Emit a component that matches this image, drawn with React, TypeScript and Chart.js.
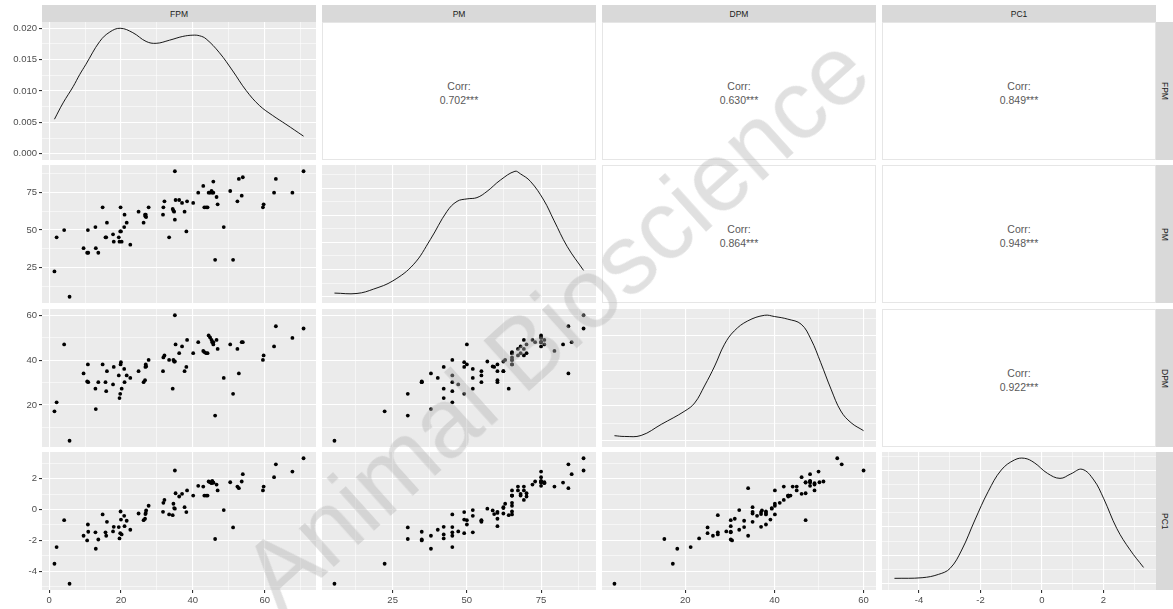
import React, { useEffect, useRef } from "react";
import { Chart, registerables } from "chart.js";
Chart.register(...registerables);

const FONT = "'Liberation Sans', Arial, sans-serif";

const VAR_NAMES = ["FPM", "PM", "DPM", "PC1"];

const FPM = [1.5, 2.1, 4.2, 5.7, 9.6, 10.6, 10.8, 10.9, 12.9, 13.0, 13.7, 14.9, 15.7, 15.9, 16.1, 17.8, 18.0, 19.4, 19.6, 19.8, 19.9, 20.0, 20.2, 20.9, 21.0, 21.6, 22.6, 24.9, 26.3, 26.7, 26.8, 26.9, 27.0, 27.7, 31.7, 31.8, 32.1, 33.4, 34.4, 34.6, 34.8, 35.0, 35.0, 35.2, 36.2, 37.0, 37.7, 38.2, 38.4, 40.1, 41.5, 42.9, 43.2, 43.7, 44.1, 44.4, 44.8, 45.2, 45.4, 45.7, 45.7, 46.2, 46.6, 46.9, 48.6, 50.4, 51.2, 52.4, 52.8, 53.6, 53.9, 59.5, 59.7, 62.6, 63.1, 67.7, 70.8];
const PM = [22.3, 45.1, 50.0, 5.4, 37.9, 34.8, 50.0, 34.8, 52.0, 37.9, 34.8, 65.2, 45.1, 45.1, 54.9, 47.1, 42.2, 45.1, 42.2, 49.1, 65.2, 49.1, 42.2, 52.0, 60.3, 54.9, 40.2, 62.3, 54.9, 60.3, 59.2, 60.3, 58.7, 65.2, 60.3, 65.2, 69.2, 45.1, 64.1, 62.9, 62.3, 56.9, 89.3, 70.1, 70.1, 68.1, 62.3, 49.1, 69.2, 68.1, 75.0, 79.5, 65.2, 65.2, 65.2, 75.0, 75.0, 76.1, 75.0, 82.4, 75.0, 30.1, 72.1, 67.2, 52.0, 76.1, 30.1, 69.2, 84.2, 73.0, 85.3, 65.2, 67.2, 75.0, 84.2, 75.0, 89.3];
const DPM = [17.2, 21.2, 47.0, 4.1, 34.1, 30.5, 38.1, 30.2, 27.3, 18.2, 30.2, 38.1, 30.2, 26.2, 35.1, 29.2, 37.0, 33.2, 23.1, 25.0, 38.1, 39.1, 27.3, 36.1, 30.2, 33.2, 32.1, 35.1, 30.2, 31.1, 37.0, 38.1, 37.2, 40.1, 35.1, 41.2, 42.1, 40.1, 27.3, 40.1, 39.4, 39.4, 60.0, 47.0, 43.1, 46.1, 35.1, 37.0, 49.0, 43.1, 48.0, 44.1, 43.6, 43.1, 43.1, 51.0, 50.1, 49.0, 48.0, 47.0, 48.0, 15.3, 49.0, 45.0, 32.1, 47.0, 25.0, 45.0, 34.1, 48.0, 48.0, 40.1, 42.1, 46.1, 55.1, 49.9, 54.1];
const PC1 = [-3.51, -2.43, -0.69, -4.8, -1.7, -2.0, -0.97, -1.44, -1.48, -2.54, -1.94, -0.32, -1.48, -1.7, -0.8, -1.42, -1.12, -1.14, -1.87, -1.53, -0.13, -0.65, -1.61, -0.41, -1.08, -0.73, -1.31, -0.26, -0.69, -0.6, -0.3, -0.22, -0.06, 0.24, -0.15, 0.43, 0.62, -0.32, -0.37, 0.37, 0.09, 0.05, 2.52, 1.05, 0.84, 1.01, 0.15, -0.17, 1.23, 0.9, 1.53, 1.48, 0.9, 0.9, 0.9, 1.81, 1.76, 1.7, 1.85, 1.74, 1.74, -1.91, 1.61, 1.23, -0.04, 1.76, -1.16, 1.48, 1.38, 1.81, 2.28, 1.23, 1.48, 2.09, 2.92, 2.45, 3.31];

// correlation labels, upper triangle, row by row
const CORR_LABELS = ["0.702***", "0.630***", "0.849***", "0.864***", "0.948***", "0.922***"];

// axis tick labels
const FPM_TICKS = [0, 20, 40, 60];
const PM_TICKS = [25, 50, 75];
const DPM_TICKS = [20, 40, 60];
const PC1_TICKS = [-4, -2, 0, 2];

// density curves
const FPM_DENS_X = [1.5, 3.9, 6.7, 8.5, 10.2, 14.1, 16.9, 19.8, 23.3, 27.0, 29.8, 33.5, 37.2, 40.0, 41.9, 43.7, 47.4, 51.1, 54.8, 58.5, 62.2, 65.9, 70.8];
const FPM_DENS_Y = [0.0055, 0.0081, 0.0107, 0.0126, 0.0142, 0.0179, 0.0194, 0.0200, 0.0193, 0.0179, 0.0176, 0.0181, 0.0187, 0.0189, 0.0188, 0.0183, 0.0161, 0.0132, 0.0101, 0.0077, 0.0061, 0.0047, 0.0028];
const PM_DENS_X = [5.4, 13.0, 18.6, 25.1, 32.1, 37.7, 43.3, 46.7, 50.1, 53.4, 56.8, 61.3, 66.2, 68.0, 71.4, 75.9, 79.3, 83.8, 89.3];
const PM_DENS_Y = [0.00067, 0.0006, 0.00141, 0.00293, 0.00598, 0.01053, 0.01571, 0.01756, 0.01802, 0.01825, 0.0194, 0.02148, 0.0231, 0.02264, 0.02125, 0.01779, 0.01409, 0.00924, 0.00485];
const DPM_DENS_X = [4.1, 6.4, 10.1, 14.6, 19.9, 22.1, 24.3, 26.6, 28.8, 31.0, 34.0, 37.8, 40.0, 43.0, 46.0, 48.2, 50.4, 52.7, 54.9, 57.2, 60.0];
const DPM_DENS_Y = [0.00144, 0.00122, 0.00151, 0.00468, 0.0085, 0.0108, 0.01566, 0.02138, 0.02761, 0.03143, 0.03427, 0.03589, 0.03553, 0.03478, 0.03334, 0.02902, 0.02232, 0.01476, 0.0085, 0.00515, 0.00288];
const PC1_DENS_X = [-4.8, -3.9, -3.37, -2.99, -2.61, -2.18, -1.75, -1.32, -0.89, -0.57, -0.25, 0.18, 0.59, 0.94, 1.31, 1.69, 2.01, 2.44, 2.87, 3.31];
const PC1_DENS_Y = [0.0095, 0.0106, 0.0164, 0.027, 0.0594, 0.1123, 0.1622, 0.2004, 0.2181, 0.221, 0.2133, 0.1945, 0.1856, 0.1934, 0.2016, 0.1828, 0.1503, 0.0972, 0.0597, 0.0287];
const FPM_DENS_TICKS = [0, 0.005, 0.01, 0.015, 0.02];
const PM_DENS_TICKS = [0, 0.005, 0.01, 0.015, 0.02];
const DPM_DENS_TICKS = [0, 0.01, 0.02, 0.03];
const PC1_DENS_TICKS = [0, 0.05, 0.1, 0.15, 0.2];

const VARS = [FPM, PM, DPM, PC1];
const MAJORS = [FPM_TICKS, PM_TICKS, DPM_TICKS, PC1_TICKS];
const DENS_X = [FPM_DENS_X, PM_DENS_X, DPM_DENS_X, PC1_DENS_X];
const DENS_Y = [FPM_DENS_Y, PM_DENS_Y, DPM_DENS_Y, PC1_DENS_Y];
const DENS_TICKS = [FPM_DENS_TICKS, PM_DENS_TICKS, DPM_DENS_TICKS, PC1_DENS_TICKS];

// layout
const W = 1173;
const H = 609;
const COL_LEFT = [42, 322, 602, 882];
const ROW_TOP = [22, 165, 309, 452];
const PW = 274;
const PH = 138;
const Y_AXIS_W = 42;
const X_AXIS_H = H - (ROW_TOP[3] + PH);
const STRIP_TOP = 5;
const STRIP_RIGHT_LEFT = 1156;

function rangeOf(a: number[]): [number, number] {
  const mn = Math.min(...a);
  const mx = Math.max(...a);
  const d = mx - mn;
  return [mn - 0.05 * d, mx + 0.05 * d];
}
function densRange(a: number[]): [number, number] {
  const mx = Math.max(...a);
  return [-0.05 * mx, 1.05 * mx];
}
function minorsOf(majors: number[], r: [number, number]) {
  const step = majors[1] - majors[0];
  const out: number[] = [];
  for (let v = majors[0] - step / 2; v <= majors[majors.length - 1] + step / 2 + 1e-12; v += step) {
    if (v >= r[0] && v <= r[1]) out.push(v);
  }
  return out;
}

function axisOpts(
  range: [number, number],
  majors: number[],
  show: boolean,
  isX: boolean,
  fmt: (v: number) => string
) {
  const minors = minorsOf(majors, range);
  const majorsIn = majors.filter((v) => v >= range[0] && v <= range[1]);
  const all = [...majorsIn, ...minors].sort((a, b) => a - b);
  const isMajor = (v: number) => majorsIn.some((m) => Math.abs(m - v) < 1e-9);
  return {
    type: "linear",
    position: isX ? "bottom" : "left",
    bounds: "data",
    min: range[0],
    max: range[1],
    afterBuildTicks: (s: any) => {
      s.ticks = all.map((v) => ({ value: v }));
    },
    afterFit: (s: any) => {
      if (isX) s.height = show ? X_AXIS_H : 0;
      else s.width = show ? Y_AXIS_W : 0;
      s.paddingTop = 0;
      s.paddingBottom = 0;
      s.paddingLeft = 0;
      s.paddingRight = 0;
    },
    border: { display: false },
    grid: {
      color: "#FFFFFF",
      lineWidth: (c: any) => (c.tick && isMajor(c.tick.value) ? 1.1 : 0.55),
      drawTicks: show,
      tickLength: 3,
      tickColor: (c: any) => (c.tick && isMajor(c.tick.value) ? "#333333" : "rgba(0,0,0,0)"),
      tickWidth: 1.1,
    },
    ticks: {
      display: show,
      autoSkip: false,
      maxRotation: 0,
      minRotation: 0,
      padding: 2,
      color: "#4D4D4D",
      font: { family: FONT, size: 9.5 },
      callback: (v: any) => (isMajor(Number(v)) ? fmt(Number(v)) : ""),
    },
  };
}

const bgPlugin = {
  id: "panelBg",
  beforeDraw(chart: any) {
    const a = chart.chartArea;
    const ctx = chart.ctx;
    ctx.save();
    ctx.fillStyle = "#EBEBEB";
    ctx.fillRect(a.left, a.top, a.right - a.left, a.bottom - a.top);
    ctx.restore();
  },
};

type Spec = { r: number; c: number };

function PanelChart({ r, c }: Spec) {
  const ref = useRef<HTMLCanvasElement>(null);
  const showY = c === 0;
  const showX = r === 3;
  const left = showY ? 0 : COL_LEFT[c];
  const w = PW + (showY ? COL_LEFT[0] : 0);
  const top = ROW_TOP[r];
  const h = PH + (showX ? X_AXIS_H : 0);

  useEffect(() => {
    const xr = rangeOf(VARS[c]);
    const intFmt = (v: number) => String(v);
    let yr: [number, number];
    let yMaj: number[];
    let yFmt = intFmt;
    let dataset: any;
    if (r === c) {
      yr = densRange(DENS_Y[r]);
      yMaj = DENS_TICKS[r];
      yFmt = (v: number) => v.toFixed(3);
      dataset = {
        data: DENS_X[r].map((x, i) => ({ x, y: DENS_Y[r][i] })),
        showLine: true,
        borderColor: "#000000",
        borderWidth: 0.9,
        pointRadius: 0,
        tension: 0.4,
        fill: false,
      };
    } else {
      yr = rangeOf(VARS[r]);
      yMaj = MAJORS[r];
      dataset = {
        data: VARS[c].map((x, i) => ({ x, y: VARS[r][i] })),
        pointRadius: 1.9,
        pointBackgroundColor: "#000000",
        pointBorderWidth: 0,
        showLine: false,
      };
    }
    const chart = new Chart(ref.current as HTMLCanvasElement, {
      type: "scatter",
      data: { datasets: [dataset] },
      options: {
        animation: false,
        responsive: false,
        devicePixelRatio: 1,
        layout: { padding: 0, autoPadding: false },
        events: [],
        plugins: { legend: { display: false }, tooltip: { enabled: false } },
        scales: {
          x: axisOpts(xr, MAJORS[c], showX, true, intFmt) as any,
          y: axisOpts(yr, yMaj, showY, false, yFmt) as any,
        },
      },
      plugins: [bgPlugin],
    } as any);
    return () => chart.destroy();
  }, []);

  return (
    <canvas
      ref={ref}
      width={w}
      height={h}
      style={{ position: "absolute", left, top, width: w, height: h }}
    />
  );
}

function UpperPanel({ r, c, label }: { r: number; c: number; label: string }) {
  return (
    <div
      style={{
        position: "absolute",
        left: COL_LEFT[c],
        top: ROW_TOP[r],
        width: PW,
        height: PH,
        boxSizing: "border-box",
        border: "1px solid #E6E6E6",
        background: "#FFFFFF",
        display: "flex",
        flexDirection: "column",
        alignItems: "center",
        justifyContent: "center",
        fontFamily: FONT,
        fontSize: 10.5,
        lineHeight: "14px",
        color: "#595959",
        paddingTop: 3,
      }}
    >
      <div>Corr:</div>
      <div>{label}</div>
    </div>
  );
}

export default function App() {
  const panels: React.ReactNode[] = [];
  let k = 0;
  for (let r = 0; r < 4; r++) {
    for (let c = 0; c < 4; c++) {
      if (c > r) {
        panels.push(<UpperPanel key={`u${r}${c}`} r={r} c={c} label={CORR_LABELS[k++]} />);
      } else {
        panels.push(<PanelChart key={`p${r}${c}`} r={r} c={c} />);
      }
    }
  }
  return (
    <div
      style={{
        position: "fixed",
        left: 0,
        top: 0,
        width: W,
        height: H,
        background: "#FFFFFF",
        overflow: "hidden",
      }}
    >
      {panels}
      {VAR_NAMES.map((n, c) => (
        <div
          key={`st${c}`}
          style={{
            position: "absolute",
            left: COL_LEFT[c],
            top: STRIP_TOP,
            width: PW,
            height: ROW_TOP[0] - STRIP_TOP,
            background: "#D9D9D9",
            color: "#1A1A1A",
            fontFamily: FONT,
            fontSize: 8.5,
            display: "flex",
            alignItems: "center",
            justifyContent: "center",
          }}
        >
          {n}
        </div>
      ))}
      {VAR_NAMES.map((n, r) => (
        <div
          key={`sr${r}`}
          style={{
            position: "absolute",
            left: STRIP_RIGHT_LEFT,
            top: ROW_TOP[r],
            width: W - STRIP_RIGHT_LEFT,
            height: PH,
            background: "#D9D9D9",
            color: "#1A1A1A",
            fontFamily: FONT,
            fontSize: 8.5,
            display: "flex",
            alignItems: "center",
            justifyContent: "center",
          }}
        >
          <span style={{ writingMode: "vertical-rl" }}>{n}</span>
        </div>
      ))}
      <div
        style={{
          position: "absolute",
          left: 555,
          top: 322,
          transform: "translate(-50%, -50%) rotate(-42deg)",
          fontFamily: FONT,
          fontSize: 98,
          whiteSpace: "nowrap",
          color: "rgba(180,180,180,0.42)",
          pointerEvents: "none",
          lineHeight: 1,
        }}
      >
        Animal Bioscience
      </div>
    </div>
  );
}
